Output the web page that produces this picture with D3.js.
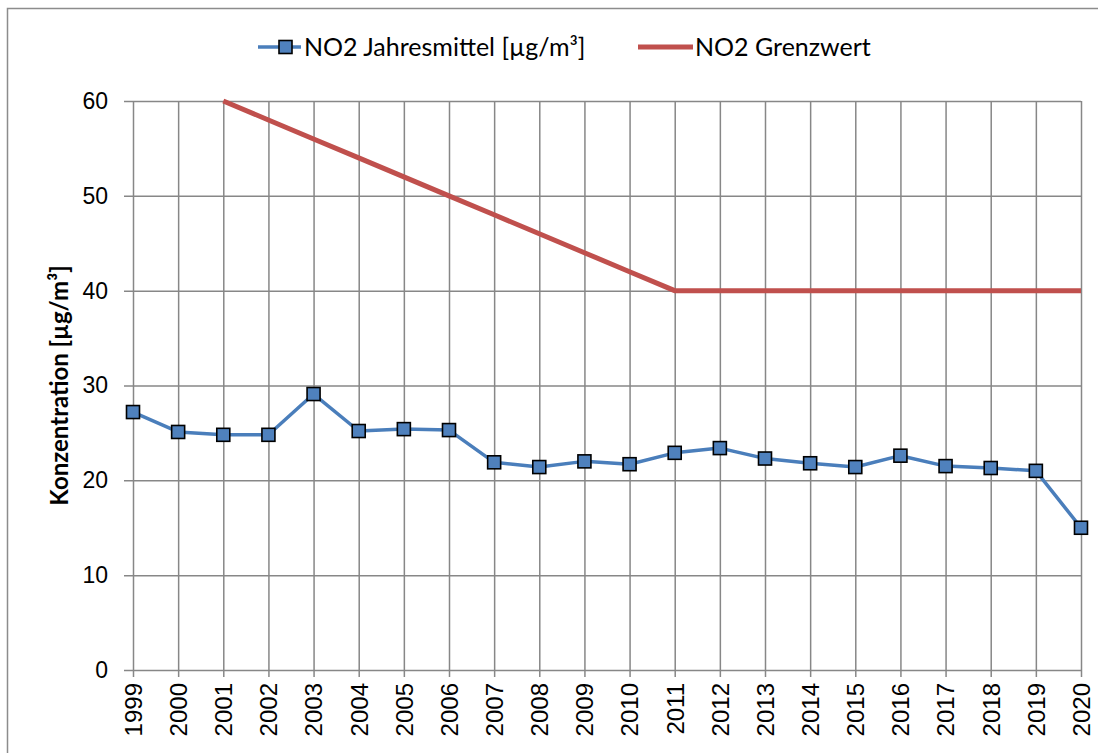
<!DOCTYPE html>
<html>
<head>
<meta charset="utf-8">
<script src="https://cdn.jsdelivr.net/npm/d3@7"></script>
<style>
  body { margin: 0; background: #fff; }
  svg { display: block; }
</style>
</head>
<body>
<script>
// Jahre und Werte
var years = [1999, 2000, 2001, 2002, 2003, 2004, 2005, 2006, 2007, 2008, 2009, 2010,
             2011, 2012, 2013, 2014, 2015, 2016, 2017, 2018, 2019, 2020];
var no2Mean = [27.2, 25.1, 24.8, 24.8, 29.1, 25.2, 25.4, 25.3, 21.9, 21.4, 22.0, 21.7,
               22.9, 23.4, 22.3, 21.8, 21.4, 22.6, 21.5, 21.3, 21.0, 15.0];
var no2Limit = [null, null, 60, 58, 56, 54, 52, 50, 48, 46, 44, 42,
                40, 40, 40, 40, 40, 40, 40, 40, 40, 40];
var yTicks = [0, 10, 20, 30, 40, 50, 60];
var legendLabels = ["NO2 Jahresmittel [µg/m³]", "NO2 Grenzwert"];

var width = 1098, height = 753;
var margin = {top: 101, right: 17, bottom: 83, left: 133};
var plotW = width - margin.left - margin.right;
var plotH = height - margin.bottom - margin.top;

var svg = d3.select("body").append("svg")
    .attr("width", width)
    .attr("height", height);

// Rahmen um das ganze Diagramm (rechts und unten abgeschnitten)
svg.append("rect")
    .attr("x", 7.5).attr("y", 8.5)
    .attr("width", width + 50).attr("height", height + 50)
    .attr("fill", "none")
    .attr("stroke", "#8c8c8c")
    .attr("stroke-width", 1.5);

var x = d3.scalePoint()
    .domain(years)
    .range([margin.left, width - margin.right]);

var y = d3.scaleLinear()
    .domain([0, 60])
    .range([height - margin.bottom, margin.top]);

var gridColor = "#878787";
var tickFont = "'Liberation Sans', Arial, sans-serif";

// horizontale Gitterlinien (mit Tick nach links)
svg.append("g")
    .attr("transform", "translate(" + margin.left + ",0)")
    .call(d3.axisLeft(y).tickValues(yTicks))
    .call(g => g.select(".domain").remove())
    .call(g => g.selectAll(".tick line")
        .attr("x1", -9).attr("x2", plotW)
        .attr("stroke", gridColor).attr("stroke-width", 1.5))
    .call(g => g.selectAll(".tick text")
        .attr("x", -25)
        .attr("font-family", tickFont)
        .attr("font-size", 23)
        .attr("fill", "#000"));

// vertikale Gitterlinien (mit Tick nach unten)
svg.append("g")
    .attr("transform", "translate(0," + (height - margin.bottom) + ")")
    .call(d3.axisBottom(x))
    .call(g => g.select(".domain").remove())
    .call(g => g.selectAll(".tick line")
        .attr("y1", -plotH).attr("y2", 7)
        .attr("stroke", gridColor).attr("stroke-width", 1.5))
    .call(g => g.selectAll(".tick text")
        .attr("transform", "rotate(-90)")
        .attr("x", -13).attr("y", 0).attr("dy", "0.35em")
        .attr("text-anchor", "end")
        .attr("font-family", tickFont)
        .attr("font-size", 24)
        .attr("fill", "#000"));

// Achsentitel
svg.append("text")
    .attr("transform", "translate(68," + (margin.top + plotH / 2) + ") rotate(-90)")
    .attr("text-anchor", "middle")
    .attr("font-family", "Lato, 'Open Sans', sans-serif")
    .attr("font-weight", "bold")
    .attr("font-size", 24)
    .text("Konzentration [µg/m³]");

// Grenzwert-Linie
var limitLine = d3.line()
    .defined(d => d[1] != null)
    .x(d => x(d[0]))
    .y(d => y(d[1]));

svg.append("path")
    .datum(years.map((yr, i) => [yr, no2Limit[i]]))
    .attr("fill", "none")
    .attr("stroke", "#c0504d")
    .attr("stroke-width", 5)
    .attr("d", limitLine);

// Jahresmittel-Linie
var meanLine = d3.line()
    .x(d => x(d[0]))
    .y(d => y(d[1]));

var meanData = years.map((yr, i) => [yr, no2Mean[i]]);

svg.append("path")
    .datum(meanData)
    .attr("fill", "none")
    .attr("stroke", "#4a7ebb")
    .attr("stroke-width", 3.5)
    .attr("stroke-linejoin", "round")
    .attr("d", meanLine);

svg.selectAll(".marker")
    .data(meanData)
    .enter().append("rect")
    .attr("class", "marker")
    .attr("x", d => x(d[0]) - 6.5)
    .attr("y", d => y(d[1]) - 6.5)
    .attr("width", 13)
    .attr("height", 13)
    .attr("fill", "#4f81bd")
    .attr("stroke", "#000")
    .attr("stroke-width", 1.6);

// Legende
var legend = svg.append("g")
    .attr("font-family", "Lato, 'Open Sans', sans-serif")
    .attr("font-size", 25);

var leg1 = legend.append("g").attr("transform", "translate(258,47)");
leg1.append("line")
    .attr("x1", 0).attr("x2", 43)
    .attr("stroke", "#4a7ebb").attr("stroke-width", 3.5);
leg1.append("rect")
    .attr("x", 21).attr("y", -6.5)
    .attr("width", 13).attr("height", 13)
    .attr("fill", "#4f81bd").attr("stroke", "#000").attr("stroke-width", 1.6);
leg1.append("text")
    .attr("x", 46).attr("dy", "0.35em")
    .text(legendLabels[0]);

var leg2 = legend.append("g").attr("transform", "translate(638,47)");
leg2.append("line")
    .attr("x1", 0).attr("x2", 55)
    .attr("stroke", "#c0504d").attr("stroke-width", 5);
leg2.append("text")
    .attr("x", 57).attr("dy", "0.35em")
    .text(legendLabels[1]);
</script>
</body>
</html>
